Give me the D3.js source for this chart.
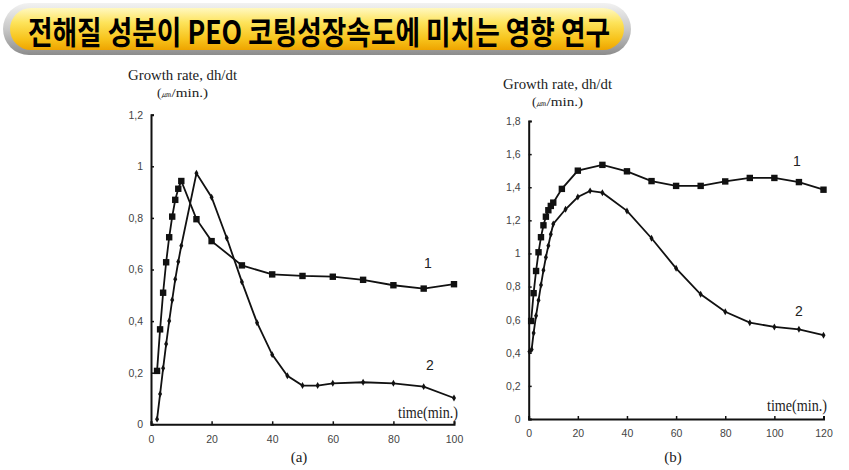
<!DOCTYPE html>
<html><head><meta charset="utf-8">
<script src="https://cdn.jsdelivr.net/npm/d3@7"></script>
<style>
html,body{margin:0;padding:0;background:#fff;}
svg{display:block;}
</style></head>
<body>
<svg id="c" width="849" height="470"></svg>
<script>
const titleText = "전해질 성분이 PEO 코팅성장속도에 미치는 영향 연구";

// Panel (a)
const aTime1 = [2,3,4,5,6,7,8,9,10,15,20,30,40,50,60,70,80,90,100];
const aRate1 = [0.207,0.368,0.51,0.628,0.725,0.805,0.87,0.913,0.943,0.795,0.71,0.616,0.581,0.575,0.572,0.56,0.539,0.526,0.543];
const aTime2 = [2,3,4,5,6,7,8,9,10,15,20,25,30,35,40,45,50,55,60,70,80,90,100];
const aRate2 = [0.02,0.117,0.217,0.311,0.40,0.482,0.562,0.63,0.692,0.973,0.88,0.722,0.552,0.394,0.27,0.188,0.15,0.15,0.159,0.163,0.159,0.146,0.102];
const aXTicks = [0,20,40,60,80,100];
const aYTicks = [0,0.2,0.4,0.6,0.8,1,1.2];

// Panel (b)
const bTime1 = [1,2,3,4,5,6,7,8,9,10,13.5,20,30,40,50,60,70,80,90,100,110,120];
const bRate1 = [0.592,0.76,0.894,1.007,1.098,1.17,1.222,1.261,1.287,1.307,1.39,1.5,1.535,1.496,1.437,1.408,1.408,1.435,1.456,1.456,1.431,1.385];
const bTime2 = [0.3,1.2,2,3,4,5,6,7,8,9,10,15,20,25,30,40,50,60,70,80,90,100,110,120];
const bRate2 = [0.407,0.42,0.52,0.624,0.717,0.81,0.898,0.977,1.047,1.116,1.178,1.267,1.341,1.378,1.367,1.257,1.092,0.91,0.753,0.648,0.582,0.556,0.542,0.506];
const bXTicks = [0,20,40,60,80,100,120];
const bYTicks = [0,0.2,0.4,0.6,0.8,1,1.2,1.4,1.6,1.8];

const svg = d3.select("#c");
const defs = svg.append("defs");

// Title banner
const gOuter = defs.append("linearGradient").attr("id","gOuter").attr("x1",0).attr("y1",0).attr("x2",0).attr("y2",1);
gOuter.append("stop").attr("offset","0%").attr("stop-color","#f2f2f2");
gOuter.append("stop").attr("offset","50%").attr("stop-color","#c8c8c8");
gOuter.append("stop").attr("offset","100%").attr("stop-color","#8c8c8c");
const gInner = defs.append("linearGradient").attr("id","gInner").attr("x1",0).attr("y1",0).attr("x2",0).attr("y2",1);
gInner.append("stop").attr("offset","0%").attr("stop-color","#fff8c0");
gInner.append("stop").attr("offset","35%").attr("stop-color","#fde35a");
gInner.append("stop").attr("offset","75%").attr("stop-color","#f7c21a");
gInner.append("stop").attr("offset","100%").attr("stop-color","#eea400");

svg.append("rect").attr("x",3).attr("y",3).attr("width",628).attr("height",52).attr("rx",26).attr("fill","url(#gOuter)");
svg.append("rect").attr("x",10).attr("y",8).attr("width",614).attr("height",42).attr("rx",21).attr("fill","url(#gInner)");
svg.append("text").attr("x",28).attr("y",44)
  .attr("font-family","'Noto Sans CJK KR', sans-serif").attr("font-weight","bold").attr("font-size",32)
  .attr("textLength",582).attr("lengthAdjust","spacingAndGlyphs").attr("fill","#000")
  .text(titleText);

const fmt = v => d3.format("~g")(v).replace(".", ",");

function panel(cfg){
  const x = d3.scaleLinear().domain(cfg.xDomain).range(cfg.xRange);
  const y = d3.scaleLinear().domain(cfg.yDomain).range(cfg.yRange);
  const g = svg.append("g");
  const xa = g.append("g").attr("transform",`translate(0,${cfg.yRange[0]})`)
    .call(d3.axisBottom(x).tickValues(cfg.xTicks).tickSize(-3).tickPadding(11).tickFormat(fmt));
  const ya = g.append("g").attr("transform",`translate(${cfg.xRange[0]},0)`)
    .call(d3.axisLeft(y).tickValues(cfg.yTicks).tickSize(-3).tickPadding(8).tickFormat(fmt));
  [xa,ya].forEach(a=>{
    a.select(".domain").attr("stroke","#111").attr("stroke-width",2);
    a.selectAll(".tick line").attr("stroke","#111").attr("stroke-width",1.5);
    a.selectAll(".tick text").attr("font-family","Arial, 'Liberation Sans', sans-serif").attr("font-size",10.5).attr("fill","#444");
  });
  const line = d3.line().x(d=>x(d[0])).y(d=>y(d[1]));
  const s1 = cfg.t1.map((t,i)=>[t,cfg.r1[i]]);
  const s2 = cfg.t2.map((t,i)=>[t,cfg.r2[i]]);
  g.append("path").datum(s1).attr("d",line).attr("fill","none").attr("stroke","#111").attr("stroke-width",1.8);
  g.append("path").datum(s2).attr("d",line).attr("fill","none").attr("stroke","#111").attr("stroke-width",1.8);
  g.selectAll(".sq").data(s1).enter().append("rect")
    .attr("x",d=>x(d[0])-3.2).attr("y",d=>y(d[1])-3.2).attr("width",6.4).attr("height",6.4).attr("fill","#111");
  g.selectAll(".dm").data(s2).enter().append("path")
    .attr("d",d3.symbol().type(d3.symbolDiamond).size(14))
    .attr("transform",d=>`translate(${x(d[0])},${y(d[1])})`).attr("fill","#111");
  const serif = "'Liberation Serif','DejaVu Serif',serif";
  g.append("text").attr("x",cfg.titlePos[0]).attr("y",cfg.titlePos[1]).attr("font-family",serif).attr("font-size",15)
    .attr("textLength",109).attr("lengthAdjust","spacingAndGlyphs").attr("fill","#222").text("Growth rate, dh/dt");
  const u = g.append("text").attr("x",cfg.unitPos[0]).attr("y",cfg.unitPos[1]).attr("font-family",serif).attr("fill","#222")
    .attr("font-size",13.5).attr("textLength",51).attr("lengthAdjust","spacingAndGlyphs");
  u.append("tspan").attr("font-size",12).text("(");
  u.append("tspan").attr("font-size",9).attr("font-family","'Liberation Sans',sans-serif").text("㎛");
  u.append("tspan").text("/min.)");
  g.append("text").attr("x",cfg.timePos[0]).attr("y",cfg.timePos[1]).attr("font-family",serif).attr("font-size",17)
    .attr("textLength",60).attr("lengthAdjust","spacingAndGlyphs").attr("fill","#222").text("time(min.)");
  g.append("text").attr("x",cfg.l1[0]).attr("y",cfg.l1[1]).attr("text-anchor","middle").attr("font-family","Arial,'Liberation Sans',sans-serif").attr("font-size",14).attr("fill","#222").text("1");
  g.append("text").attr("x",cfg.l2[0]).attr("y",cfg.l2[1]).attr("text-anchor","middle").attr("font-family","Arial,'Liberation Sans',sans-serif").attr("font-size",14).attr("fill","#222").text("2");
  g.append("text").attr("x",cfg.capPos[0]).attr("y",cfg.capPos[1]).attr("text-anchor","middle").attr("font-family",serif).attr("font-size",15).attr("fill","#222").text(cfg.caption);
}

panel({xDomain:[0,100], xRange:[151,454], yDomain:[0,1.2], yRange:[424.3,114.7],
  xTicks:aXTicks, yTicks:aYTicks, t1:aTime1, r1:aRate1, t2:aTime2, r2:aRate2,
  titlePos:[128,80], unitPos:[157,97], timePos:[398,418], l1:[428,268], l2:[430,370], capPos:[299,462], caption:"(a)"});
panel({xDomain:[0,120], xRange:[528.7,823.5], yDomain:[0,1.8], yRange:[419,121],
  xTicks:bXTicks, yTicks:bYTicks, t1:bTime1, r1:bRate1, t2:bTime2, r2:bRate2,
  titlePos:[503,89], unitPos:[532,106], timePos:[767,411], l1:[797,166], l2:[799,316], capPos:[673,462], caption:"(b)"});
</script>
</body></html>
